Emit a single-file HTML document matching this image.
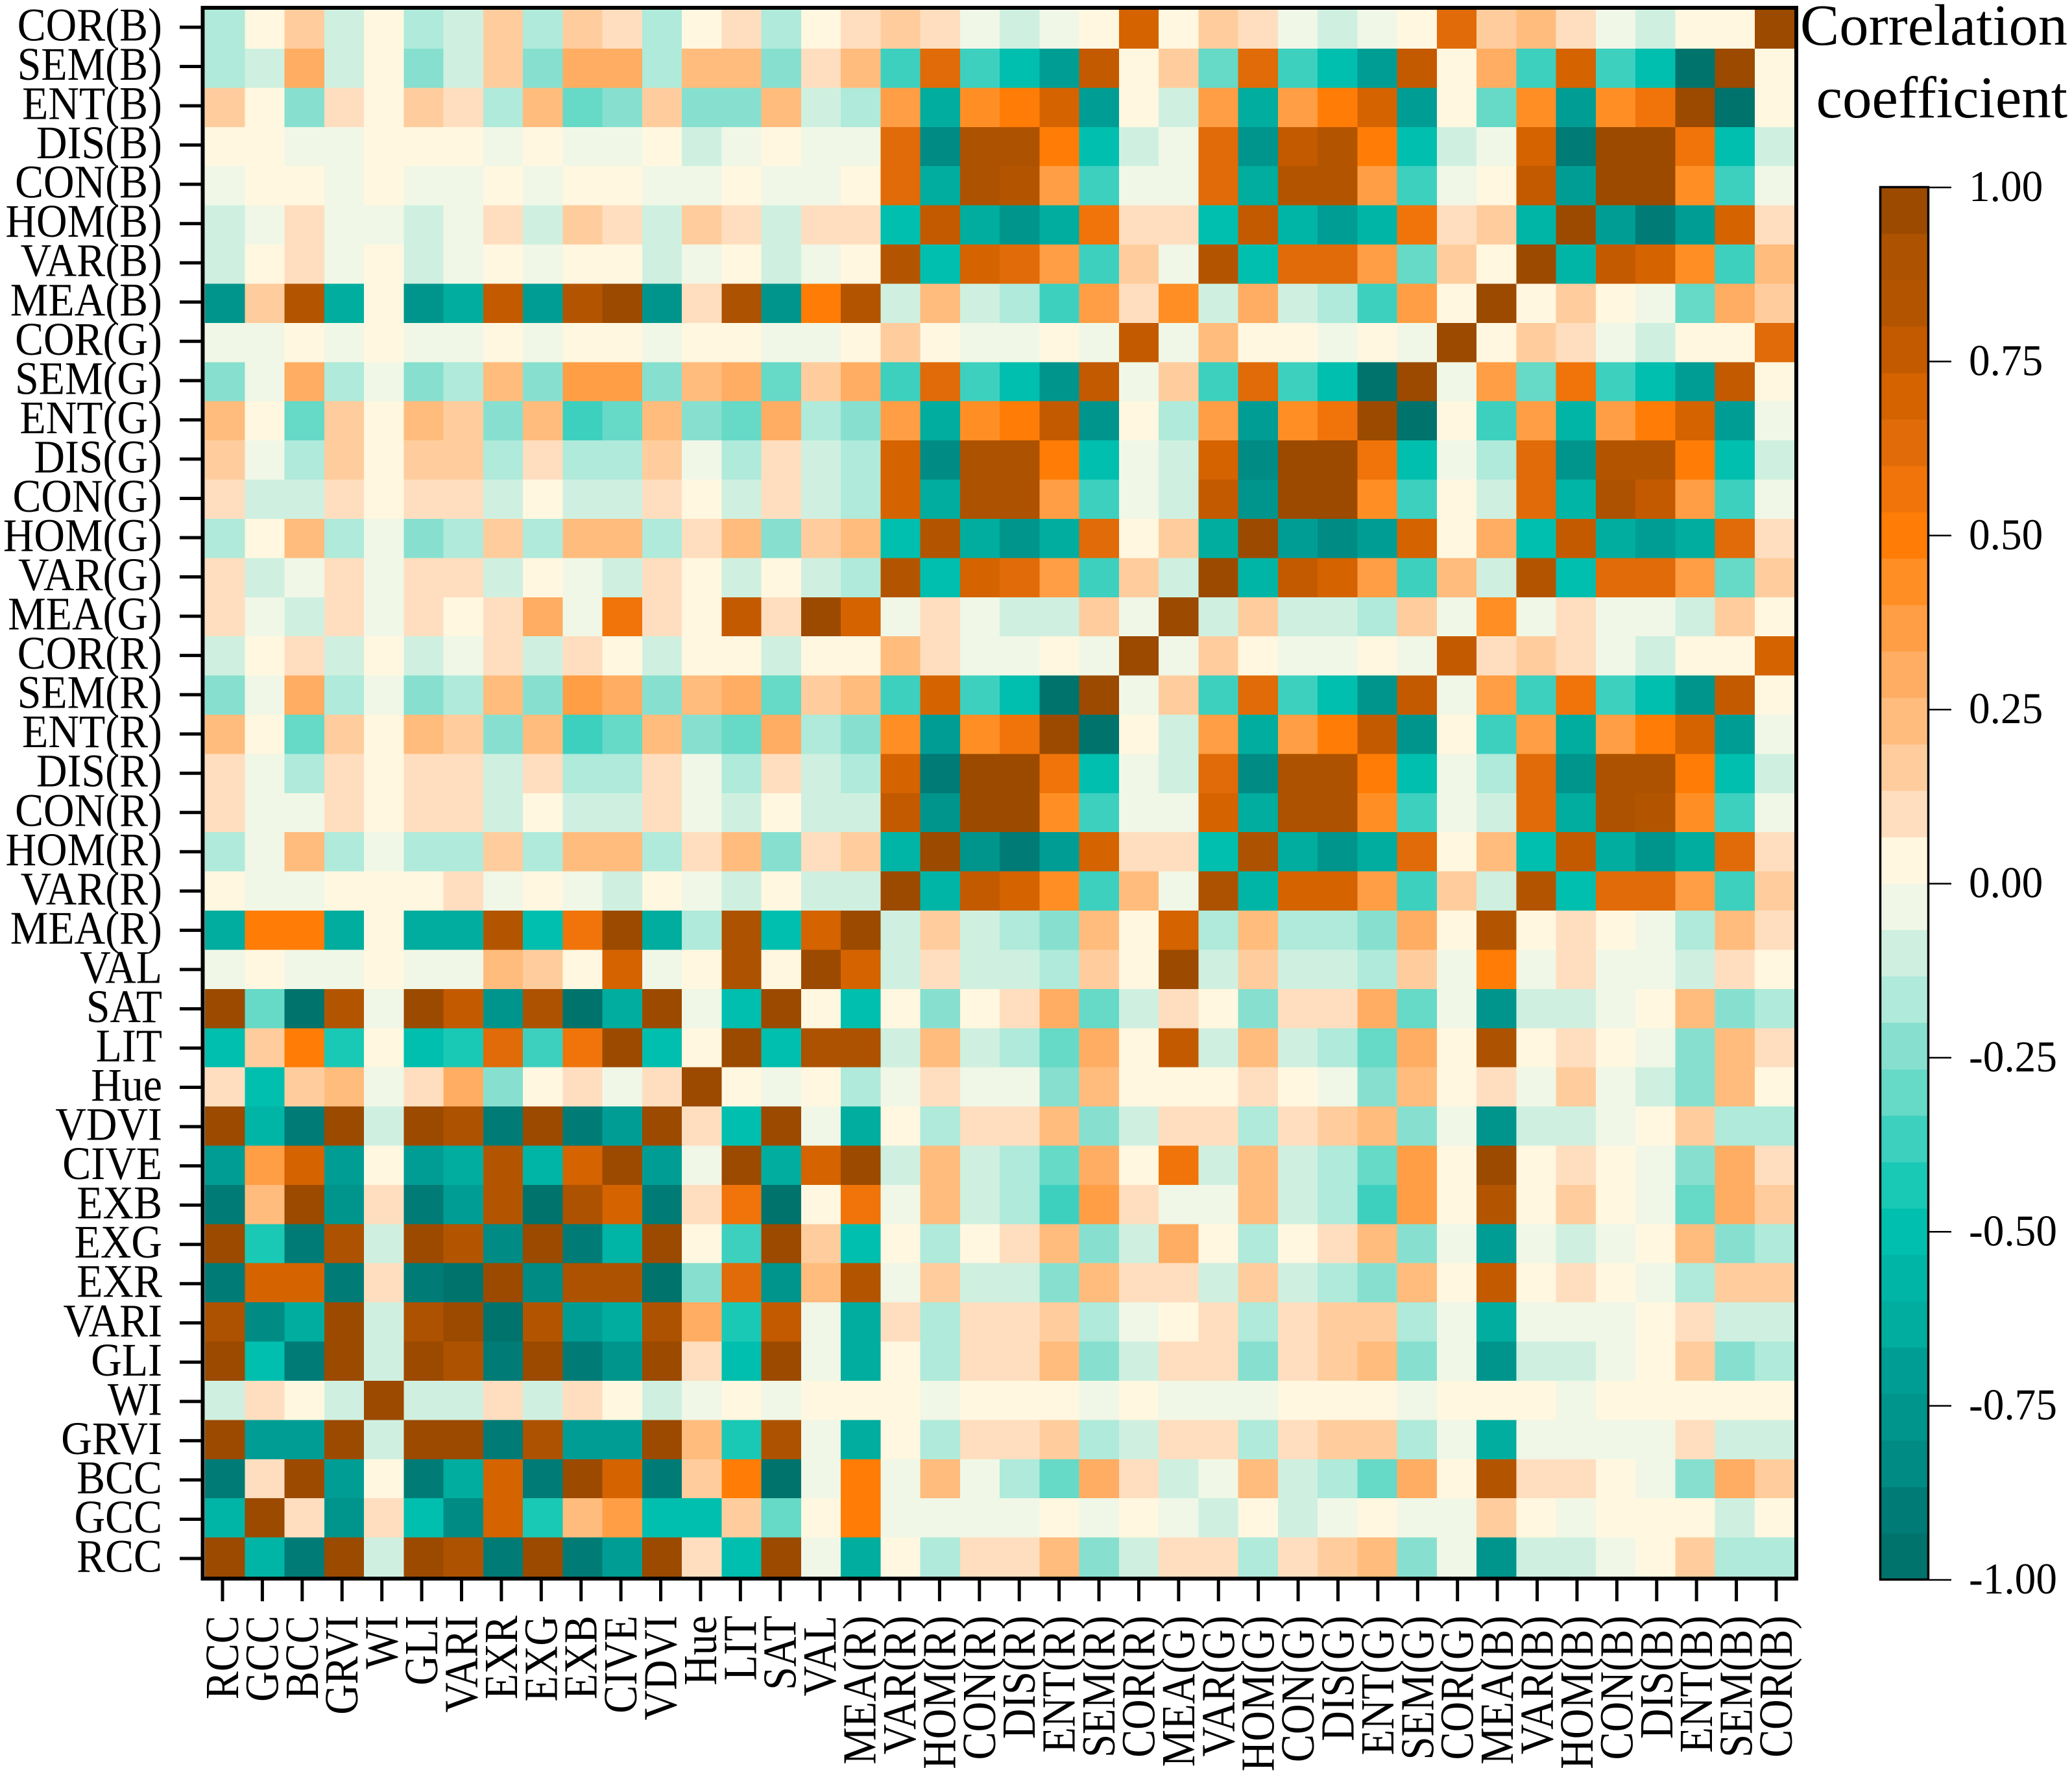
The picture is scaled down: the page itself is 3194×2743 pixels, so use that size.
<!DOCTYPE html>
<html lang="en">
<head>
<meta charset="utf-8">
<title>Correlation heatmap</title>
<style>
html,body{margin:0;padding:0;background:#fff;}
svg{display:block;}
text{font-family:"Liberation Serif","Times New Roman",serif;fill:#000;}
</style>
</head>
<body>
<svg id="chart" xmlns="http://www.w3.org/2000/svg" width="3194" height="2743" viewBox="0 0 3194 2743">
  <rect x="0" y="0" width="3194" height="2743" fill="#ffffff"/>
  <g id="cells" shape-rendering="crispEdges"></g>
  <rect x="312.5" y="12" width="2456.5" height="2422" fill="none" stroke="#000" stroke-width="6"/>
  <g id="yAxis"></g>
  <g id="xAxis"></g>
  <g id="legendBands" shape-rendering="crispEdges"></g>
  <rect x="2898.5" y="288.5" width="74" height="2147" fill="none" stroke="#000" stroke-width="3.5"/>
  <g id="legendAxis"></g>
  <text x="3187" y="69" font-size="90.5" text-anchor="end">Correlation</text>
  <text x="3187" y="181" font-size="91" text-anchor="end">coefficient</text>
</svg>
<script>
const columnLabels = ["RCC","GCC","BCC","GRVI","WI","GLI","VARI","EXR","EXG","EXB","CIVE","VDVI","Hue","LIT","SAT","VAL","MEA(R)","VAR(R)","HOM(R)","CON(R)","DIS(R)","ENT(R)","SEM(R)","COR(R)","MEA(G)","VAR(G)","HOM(G)","CON(G)","DIS(G)","ENT(G)","SEM(G)","COR(G)","MEA(B)","VAR(B)","HOM(B)","CON(B)","DIS(B)","ENT(B)","SEM(B)","COR(B)"];
const rowLabels = ["COR(B)","SEM(B)","ENT(B)","DIS(B)","CON(B)","HOM(B)","VAR(B)","MEA(B)","COR(G)","SEM(G)","ENT(G)","DIS(G)","CON(G)","HOM(G)","VAR(G)","MEA(G)","COR(R)","SEM(R)","ENT(R)","DIS(R)","CON(R)","HOM(R)","VAR(R)","MEA(R)","VAL","SAT","LIT","Hue","VDVI","CIVE","EXB","EXG","EXR","VARI","GLI","WI","GRVI","BCC","GCC","RCC"];
const legendTicks = [1,0.75,0.5,0.25,0,-0.25,-0.5,-0.75,-1];
const legendTickLabels = ["1.00","0.75","0.50","0.25","0.00","-0.25","-0.50","-0.75","-1.00"];
const palette = ["#00736C","#007B76","#008B84","#00958C","#009D95","#00AD9E","#00B5A6","#00BFAE","#1AC9B5","#3DD0BF","#66D9C7","#87E0CF","#AFEADA","#CFF0E0","#F0F7E6","#FFF7E0","#FFDEBF","#FFCD9D","#FFBC7D","#FFAD63","#FF9E44","#FF8F25","#FF7D06","#F07409","#E06B08","#D46300","#C35A00","#B35500","#AD5200","#9B4A00"];
const correlationRows = [
[-.17,.03,.17,-.1,.03,-.17,-.1,.17,-.17,.17,.1,-.17,.03,.1,-.17,.03,.1,.17,.1,-.03,-.1,-.03,.03,.7,.03,.17,.1,-.03,-.1,-.03,.03,.63,.17,.23,.1,-.03,-.1,.03,.03,.97],
[-.17,-.1,.3,-.1,.03,-.23,-.1,.17,-.23,.3,.3,-.17,.23,.23,-.23,.1,.23,-.37,.63,-.37,-.5,-.7,.77,.03,.17,-.3,.63,-.37,-.5,-.7,.77,.03,.3,-.37,.7,-.37,-.5,-.97,.97,.03],
[.17,.03,-.23,.1,.03,.17,.1,-.17,.23,-.3,-.23,.17,-.23,-.23,.23,-.1,-.17,.37,-.63,.43,.5,.7,-.7,.03,-.1,.37,-.63,.37,.5,.7,-.7,.03,-.3,.43,-.7,.43,.57,.97,-.97,.03],
[.03,.03,-.03,-.03,.03,.03,.03,-.03,.03,-.03,-.03,.03,-.1,-.03,.03,-.03,-.03,.63,-.83,.9,.9,.5,-.5,-.1,-.03,.63,-.77,.77,.83,.5,-.5,-.1,-.03,.7,-.9,.97,.97,.57,-.5,-.1],
[-.03,.03,.03,-.03,.03,-.03,-.03,.03,-.03,.03,.03,-.03,-.03,.03,-.03,-.03,.03,.63,-.63,.9,.83,.37,-.37,-.03,-.03,.63,-.63,.83,.83,.37,-.37,-.03,.03,.77,-.7,.97,.97,.43,-.37,-.03],
[-.1,-.03,.1,-.03,-.03,-.1,-.03,.1,-.1,.17,.1,-.1,.17,.1,-.1,.1,.1,-.5,.77,-.63,-.77,-.63,.57,.1,.1,-.5,.77,-.57,-.7,-.57,.57,.1,.17,-.57,.97,-.7,-.9,-.7,.7,.1],
[-.1,.03,.1,-.03,.03,-.1,-.03,.03,-.03,.03,.03,-.1,-.03,.03,-.1,-.03,.03,.83,-.5,.7,.63,.37,-.37,.17,-.03,.83,-.5,.63,.63,.37,-.3,.17,.03,.97,-.57,.77,.7,.43,-.37,.23],
[-.77,.17,.83,-.63,.03,-.77,-.63,.77,-.7,.83,.97,-.77,.1,.9,-.77,.5,.83,-.1,.23,-.1,-.17,-.37,.37,.1,.43,-.1,.3,-.1,-.17,-.37,.37,.03,.97,.03,.17,.03,-.03,-.3,.3,.17],
[-.03,-.03,.03,-.03,.03,-.03,-.03,.03,-.03,.03,.03,-.03,.03,.03,-.03,-.03,.03,.17,.03,-.03,-.03,.03,-.03,.77,-.03,.23,.03,.03,-.03,.03,-.03,.97,.03,.17,.1,-.03,-.1,.03,.03,.63],
[-.23,-.03,.3,-.17,-.03,-.23,-.17,.23,-.23,.37,.37,-.23,.23,.3,-.3,.17,.3,-.37,.63,-.37,-.5,-.77,.77,-.03,.17,-.37,.63,-.37,-.5,-.97,.97,-.03,.37,-.3,.57,-.37,-.5,-.7,.77,.03],
[.23,.03,-.3,.17,.03,.23,.17,-.23,.23,-.37,-.3,.23,-.23,-.3,.3,-.17,-.23,.37,-.63,.43,.5,.77,-.77,.03,-.17,.37,-.7,.43,.57,.97,-.97,.03,-.37,.37,-.57,.37,.5,.7,-.7,-.03],
[.17,-.03,-.17,.17,.03,.17,.17,-.17,.1,-.17,-.17,.17,-.03,-.17,.1,-.1,-.17,.7,-.83,.9,.9,.5,-.5,-.03,-.1,.7,-.83,.97,.97,.57,-.5,-.03,-.17,.63,-.77,.83,.83,.5,-.5,-.1],
[.1,-.1,-.1,.1,.03,.1,.1,-.1,.03,-.1,-.1,.1,.03,-.1,.1,-.1,-.17,.7,-.63,.9,.9,.37,-.37,-.03,-.1,.77,-.77,.97,.97,.43,-.37,.03,-.1,.63,-.57,.9,.77,.37,-.37,-.03],
[-.17,.03,.23,-.17,-.03,-.23,-.17,.17,-.17,.23,.23,-.17,.1,.23,-.23,.17,.23,-.5,.83,-.63,-.77,-.63,.63,.03,.17,-.63,.97,-.7,-.83,-.7,.7,.03,.3,-.5,.77,-.63,-.7,-.63,.63,.1],
[.1,-.1,-.03,.1,-.03,.1,.1,-.1,.03,-.03,-.1,.1,.03,-.1,.03,-.1,-.17,.83,-.5,.7,.63,.37,-.37,.17,-.1,.97,-.57,.77,.7,.37,-.37,.23,-.1,.83,-.5,.63,.63,.37,-.3,.17],
[.1,-.03,-.1,.1,-.03,.1,.03,.1,.3,-.03,.57,.1,.03,.77,.1,.97,.7,-.03,.1,-.03,-.1,-.1,.17,-.03,.97,-.1,.17,-.1,-.1,-.17,.17,-.03,.43,-.03,.1,-.03,-.03,-.1,.17,.03],
[-.1,.03,.1,-.1,.03,-.1,-.03,.1,-.1,.1,.03,-.1,.03,.03,-.1,.03,.03,.23,.1,-.03,-.03,.03,-.03,.97,-.03,.17,.03,-.03,-.03,.03,-.03,.77,.1,.17,.1,-.03,-.1,.03,.03,.7],
[-.23,-.03,.3,-.17,-.03,-.23,-.17,.23,-.23,.37,.3,-.23,.23,.3,-.3,.17,.23,-.37,.7,-.37,-.5,-.97,.97,-.03,.17,-.37,.63,-.37,-.5,-.77,.77,-.03,.37,-.37,.57,-.37,-.5,-.77,.77,.03],
[.23,.03,-.3,.17,.03,.23,.17,-.23,.23,-.37,-.3,.23,-.23,-.3,.3,-.17,-.23,.43,-.7,.43,.57,.97,-.97,.03,-.1,.37,-.63,.37,.5,.77,-.77,.03,-.37,.37,-.63,.37,.5,.7,-.7,-.03],
[.1,-.03,-.17,.1,.03,.1,.1,-.1,.1,-.17,-.17,.1,-.03,-.17,.1,-.1,-.17,.7,-.9,.97,.97,.57,-.5,-.03,-.1,.63,-.83,.9,.9,.5,-.5,-.03,-.17,.63,-.77,.9,.9,.5,-.5,-.1],
[.1,-.03,-.03,.1,.03,.1,.1,-.1,.03,-.1,-.1,.1,-.03,-.1,.03,-.1,-.1,.77,-.77,.97,.97,.43,-.37,-.03,-.03,.7,-.63,.9,.9,.43,-.37,-.03,-.1,.63,-.63,.9,.83,.43,-.37,-.03],
[-.17,-.03,.23,-.17,-.03,-.17,-.17,.17,-.17,.23,.23,-.17,.1,.23,-.23,.1,.17,-.57,.97,-.77,-.9,-.7,.7,.1,.1,-.5,.9,-.63,-.77,-.63,.63,.03,.23,-.5,.77,-.63,-.77,-.63,.63,.1],
[.03,-.03,-.03,.03,.03,.03,.1,-.03,.03,-.03,-.1,.03,-.03,-.1,.03,-.1,-.1,.97,-.57,.77,.7,.43,-.37,.23,-.03,.9,-.57,.7,.7,.37,-.37,.17,-.1,.83,-.5,.63,.63,.37,-.37,.17],
[-.63,.5,.5,-.63,.03,-.63,-.63,.83,-.5,.57,.97,-.63,-.17,.9,-.5,.7,.97,-.1,.17,-.1,-.17,-.23,.23,.03,.7,-.17,.23,-.17,-.17,-.23,.3,.03,.83,.03,.1,.03,-.03,-.17,.23,.1],
[-.03,.03,-.03,-.03,.03,-.03,-.03,.23,.17,.03,.7,-.03,.03,.9,.03,.97,.7,-.1,.1,-.1,-.1,-.17,.17,.03,.97,-.1,.17,-.1,-.1,-.17,.17,-.03,.5,-.03,.1,-.03,-.03,-.1,.1,.03],
[.97,-.3,-.97,.83,-.03,.97,.77,-.77,.9,-.97,-.63,.97,-.03,-.5,.97,.03,-.5,.03,-.23,.03,.1,.3,-.3,-.1,.1,.03,-.23,.1,.1,.3,-.3,-.03,-.77,-.1,-.1,-.03,.03,.23,-.23,-.17],
[-.5,.17,.5,-.43,.03,-.5,-.43,.63,-.37,.57,.97,-.5,.03,.97,-.5,.9,.9,-.1,.23,-.1,-.17,-.3,.3,.03,.77,-.1,.23,-.1,-.17,-.3,.3,.03,.9,.03,.1,.03,-.03,-.23,.23,.1],
[.1,-.5,.17,.23,-.03,.1,.3,-.23,.03,.1,-.03,.1,.97,.03,-.03,.03,-.17,-.03,.1,-.03,-.03,-.23,.23,.03,.03,.03,.1,.03,-.03,-.23,.23,.03,.1,-.03,.17,-.03,-.1,-.23,.23,.03],
[.97,-.57,-.9,.97,-.1,.97,.9,-.9,.97,-.9,-.7,.97,.1,-.5,.97,-.03,-.63,.03,-.17,.1,.1,.23,-.23,-.1,.1,.1,-.17,.1,.17,.23,-.23,-.03,-.77,-.1,-.1,-.03,.03,.17,-.17,-.17],
[-.7,.37,.7,-.7,.03,-.7,-.63,.83,-.57,.7,.97,-.7,-.03,.97,-.63,.7,.97,-.1,.23,-.1,-.17,-.3,.3,.03,.57,-.1,.23,-.1,-.17,-.3,.37,.03,.97,.03,.1,.03,-.03,-.23,.3,.1],
[-.9,.23,.97,-.77,.1,-.9,-.7,.83,-.97,.9,.7,-.9,.1,.57,-.97,.03,.57,-.03,.23,-.1,-.17,-.37,.37,.1,-.03,-.03,.23,-.1,-.17,-.37,.37,.03,.83,.03,.17,.03,-.03,-.3,.3,.17],
[.97,-.43,-.9,.9,-.1,.97,.83,-.83,.97,-.9,-.57,.97,.03,-.37,.97,.17,-.5,.03,-.17,.03,.1,.23,-.23,-.1,.3,.03,-.17,.03,.1,.23,-.23,-.03,-.7,-.03,-.1,-.03,.03,.23,-.23,-.17],
[-.9,.7,.7,-.9,.1,-.9,-.97,.97,-.83,.9,.9,-.97,-.23,.63,-.77,.23,.83,-.03,.17,-.1,-.1,-.23,.23,.1,.1,-.1,.17,-.1,-.17,-.23,.23,.03,.77,.03,.1,.03,-.03,-.17,.17,.17],
[.9,-.83,-.63,.97,-.1,.9,.97,-.97,.83,-.7,-.63,.9,.3,-.43,.77,-.03,-.63,.1,-.17,.1,.1,.17,-.17,-.03,.03,.1,-.17,.1,.17,.17,-.17,-.03,-.63,-.03,-.03,-.03,.03,.1,-.1,-.1],
[.97,-.5,-.9,.97,-.1,.97,.9,-.9,.97,-.9,-.77,.97,.1,-.5,.97,-.03,-.63,.03,-.17,.1,.1,.23,-.23,-.1,.1,.1,-.23,.1,.17,.23,-.23,-.03,-.77,-.1,-.1,-.03,.03,.17,-.23,-.17],
[-.1,.1,.03,-.1,.97,-.1,-.1,.1,-.1,.1,.03,-.1,-.03,.03,-.03,.03,.03,.03,-.03,.03,.03,.03,-.03,.03,-.03,-.03,-.03,.03,.03,.03,-.03,.03,.03,.03,-.03,.03,.03,.03,.03,.03],
[.97,-.7,-.7,.97,-.1,.97,.97,-.9,.9,-.7,-.7,.97,.23,-.43,.9,-.03,-.63,.03,-.17,.1,.1,.17,-.17,-.1,.1,.1,-.17,.1,.17,.17,-.17,-.03,-.63,-.03,-.03,-.03,-.03,.1,-.1,-.1],
[-.9,.1,.97,-.7,.03,-.9,-.63,.7,-.9,.97,.7,-.9,.17,.5,-.97,-.03,.5,-.03,.23,-.03,-.17,-.3,.3,.1,-.1,-.03,.23,-.1,-.17,-.3,.3,.03,.83,.1,.1,.03,-.03,-.23,.3,.17],
[-.57,.97,.1,-.77,.1,-.5,-.83,.7,-.43,.23,.37,-.5,-.5,.17,-.3,.03,.5,-.03,-.03,-.03,-.03,.03,-.03,.03,-.03,-.1,.03,-.1,-.03,.03,-.03,-.03,.17,.03,-.03,.03,.03,.03,-.1,.03],
[.97,-.57,-.9,.97,-.1,.97,.9,-.9,.97,-.9,-.7,.97,.1,-.5,.97,-.03,-.63,.03,-.17,.1,.1,.23,-.23,-.1,.1,.1,-.17,.1,.17,.23,-.23,-.03,-.77,-.1,-.1,-.03,.03,.17,-.17,-.17]
];

const SVG_NS = "http://www.w3.org/2000/svg";
const cellX = i => 316 + i * (2450 / columnLabels.length);
const cellY = j => 14.6 + j * (2416.4 / rowLabels.length);
const tickX = i => 343 + i * (2395 / (columnLabels.length - 1));
const tickY = j => 42 + j * (2361 / (rowLabels.length - 1));
const legendY = v => 289 + (1 - v) / 2 * 2147;
const colorFor = v => palette[Math.max(0, Math.min(palette.length - 1, Math.floor((v + 1) / 2 * palette.length)))];
const make = (tag, parent) => parent.appendChild(document.createElementNS(SVG_NS, tag));

const cellsGroup = document.getElementById("cells");
correlationRows.forEach((row, j) => {
  row.forEach((value, i) => {
    const cell = make("rect", cellsGroup);
    
    
    cell.setAttribute("x", cellX(i));
    cell.setAttribute("y", cellY(j));
    cell.setAttribute("width", cellX(i + 1) - cellX(i));
    cell.setAttribute("height", cellY(j + 1) - cellY(j));
    cell.setAttribute("fill", colorFor(value));
  });
});

const yAxisGroup = document.getElementById("yAxis");
rowLabels.forEach((label, j) => {
  const tick = make("line", yAxisGroup);
  
  
  tick.setAttribute("x1", 277);
  tick.setAttribute("x2", 310);
  tick.setAttribute("y1", tickY(j));
  tick.setAttribute("y2", tickY(j));
  tick.setAttribute("stroke", "#000");
  tick.setAttribute("stroke-width", 5);
  const text = make("text", yAxisGroup);
  
  
  text.setAttribute("transform", "translate(250," + (tickY(j) + 20.5) + ") scale(0.915,1)");
  text.setAttribute("text-anchor", "end");
  text.setAttribute("font-size", 72);
  text.textContent = label;
});

const xAxisGroup = document.getElementById("xAxis");
columnLabels.forEach((label, i) => {
  const tick = make("line", xAxisGroup);
  
  
  tick.setAttribute("x1", tickX(i));
  tick.setAttribute("x2", tickX(i));
  tick.setAttribute("y1", 2436);
  tick.setAttribute("y2", 2469);
  tick.setAttribute("stroke", "#000");
  tick.setAttribute("stroke-width", 5);
  const text = make("text", xAxisGroup);
  
  
  text.setAttribute("transform", "translate(" + (tickX(i) + 24) + ",2491) rotate(-90) scale(0.885,1)");
  text.setAttribute("text-anchor", "end");
  text.setAttribute("font-size", 73);
  text.textContent = label;
});

const bandsGroup = document.getElementById("legendBands");
palette.forEach((color, k) => {
  const lower = -1 + k * 2 / palette.length;
  const upper = -1 + (k + 1) * 2 / palette.length;
  const band = make("rect", bandsGroup);
  
  
  band.setAttribute("x", 2899);
  band.setAttribute("y", legendY(upper));
  band.setAttribute("width", 73);
  band.setAttribute("height", legendY(lower) - legendY(upper));
  band.setAttribute("fill", color);
});

const legendAxisGroup = document.getElementById("legendAxis");
legendTicks.forEach((value, k) => {
  const tick = make("line", legendAxisGroup);
  
  
  tick.setAttribute("x1", 2974);
  tick.setAttribute("x2", 3008);
  tick.setAttribute("y1", legendY(value));
  tick.setAttribute("y2", legendY(value));
  tick.setAttribute("stroke", "#000");
  tick.setAttribute("stroke-width", 2.5);
  const text = make("text", legendAxisGroup);
  
  
  text.setAttribute("transform", "translate(3035," + (legendY(value) + 21) + ") scale(0.96,1)");
  text.setAttribute("font-size", 68);
  text.textContent = legendTickLabels[k];
});
</script>
</body>
</html>
